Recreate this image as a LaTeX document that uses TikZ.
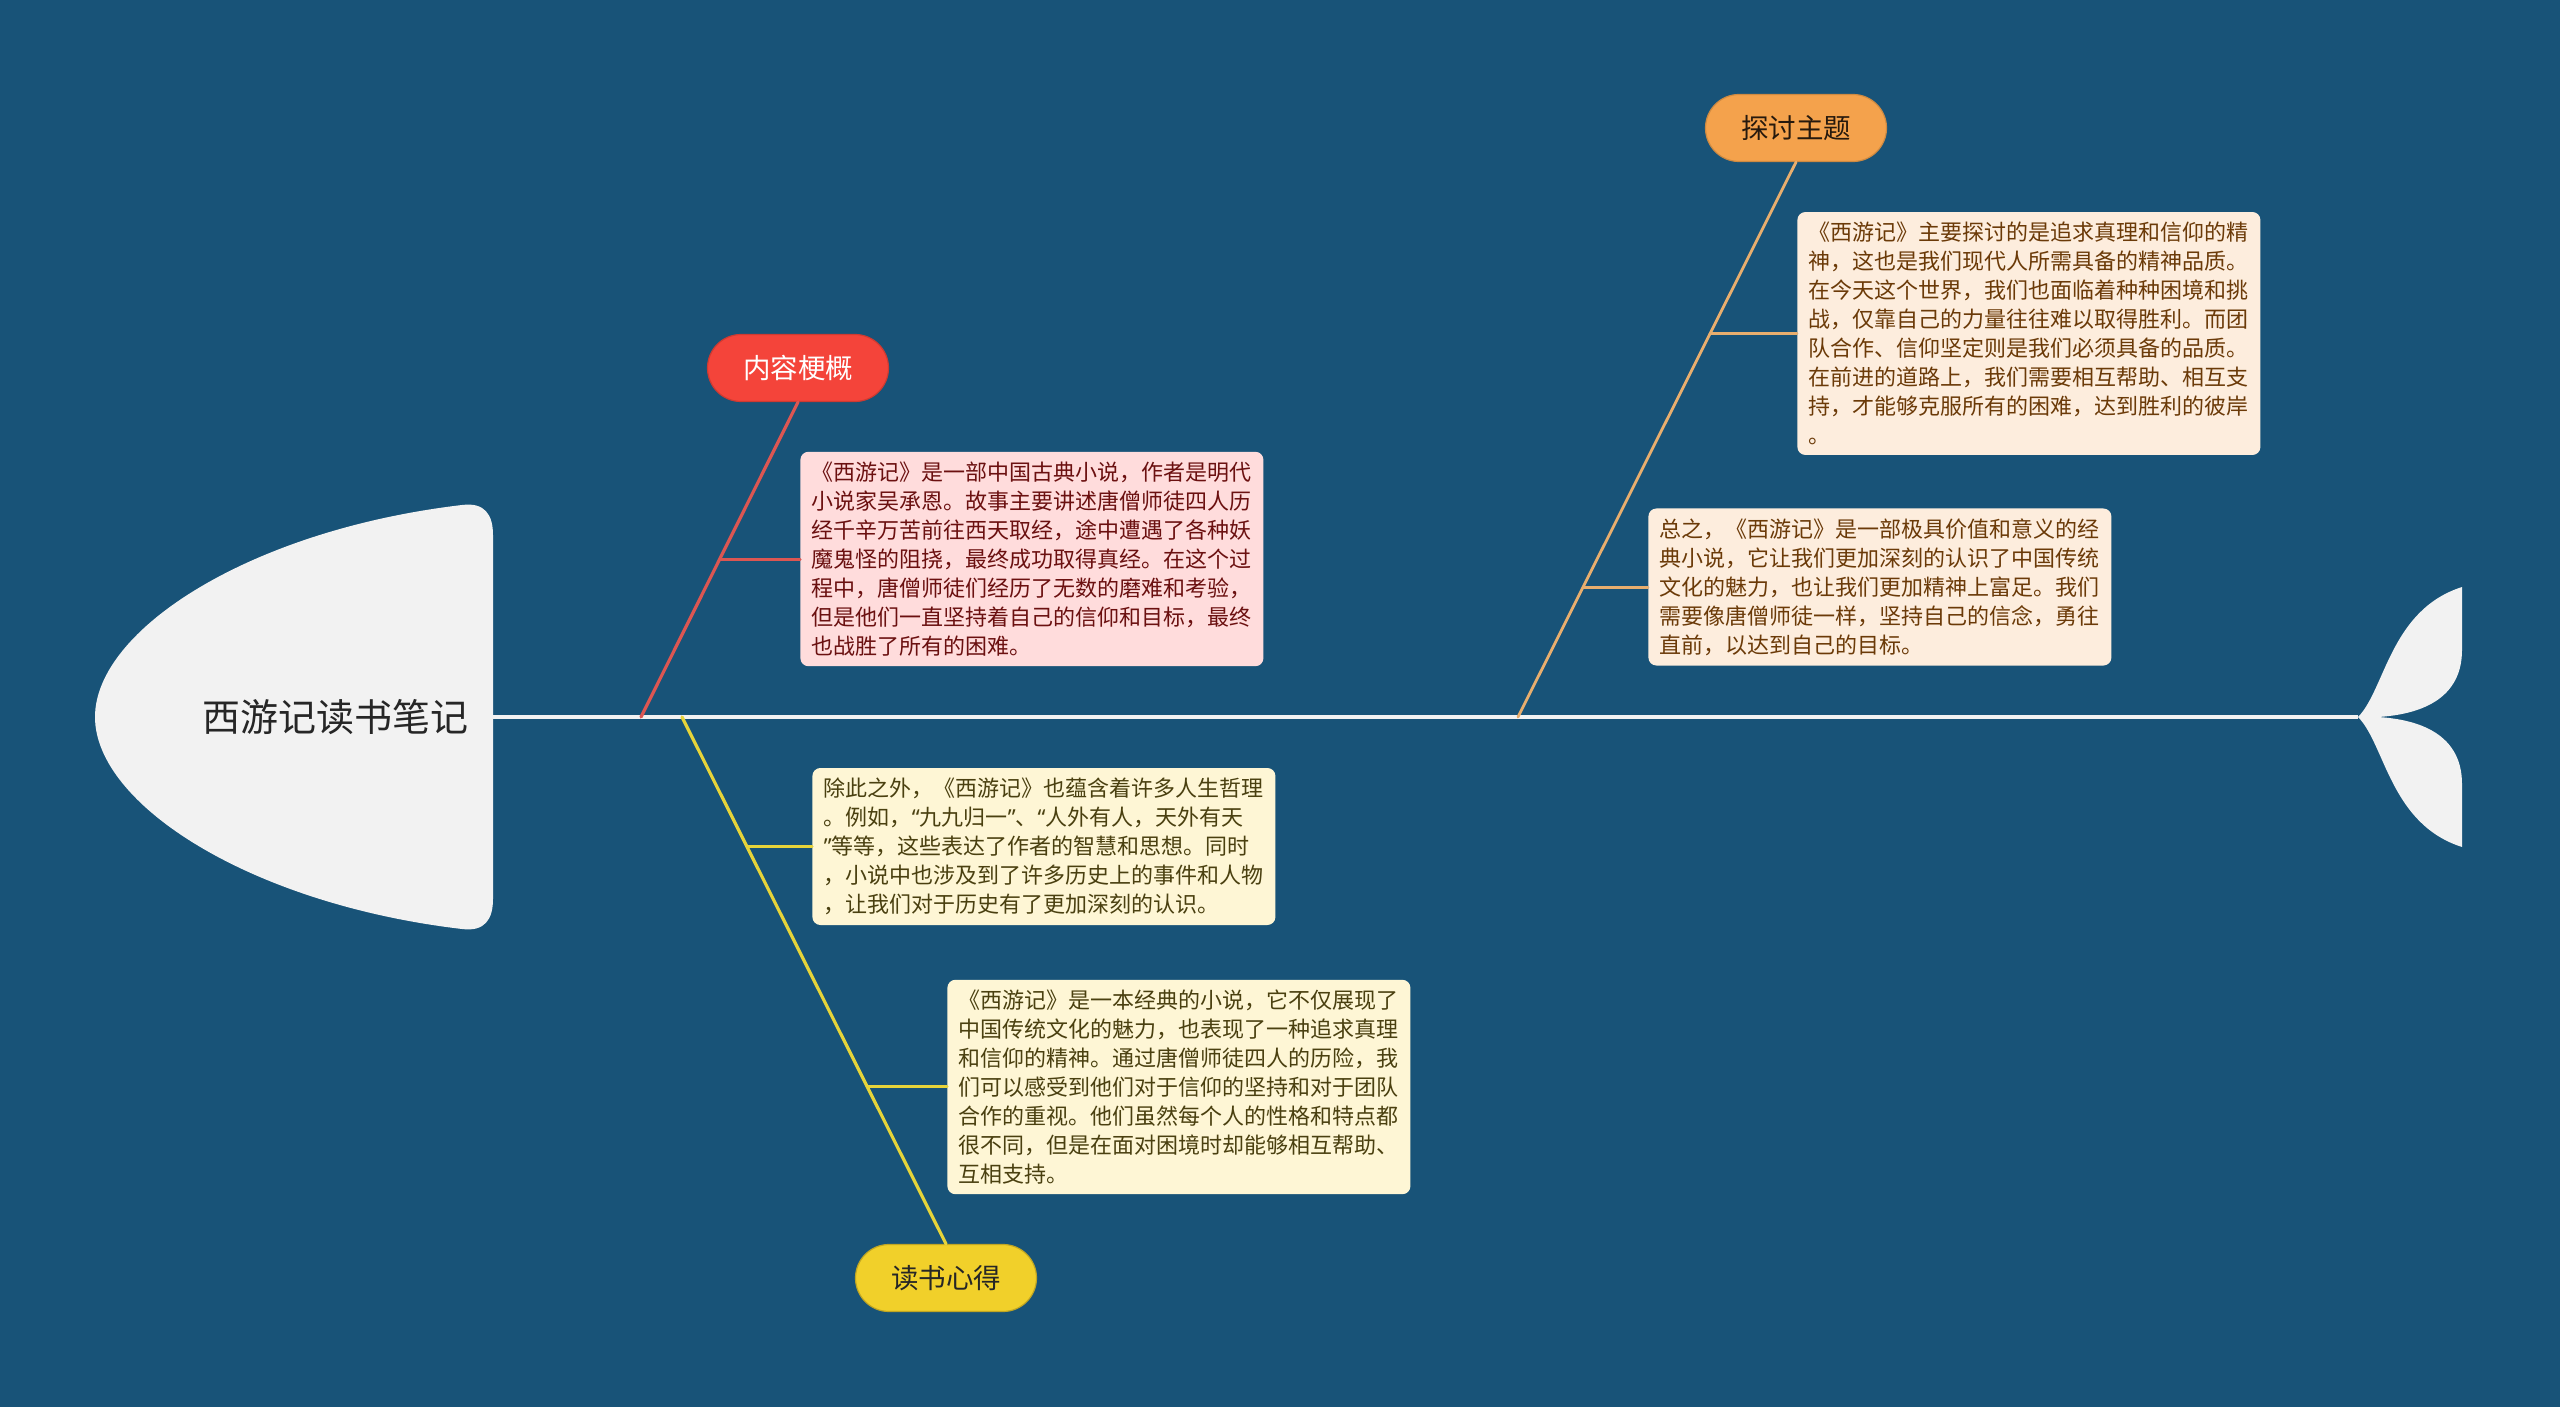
\documentclass[tikz,border=0pt]{standalone}
\usepackage{fontspec}
\newfontfamily\cjk{Noto Sans CJK SC}
\newfontfamily\latinq{Noto Sans}
\newcommand{\oq}{{\latinq “}}
\newcommand{\cq}{{\latinq ”}}
\usetikzlibrary{calc}
\definecolor{bgblue}{HTML}{185378}
\definecolor{fishwhite}{HTML}{F2F2F2}
\definecolor{gistred}{HTML}{F4443A}
\definecolor{gistline}{HTML}{DC5652}
\definecolor{gistfill}{HTML}{FFDCDC}
\definecolor{gisttext}{HTML}{6B1010}
\definecolor{themeorange}{HTML}{F4A24C}
\definecolor{themeline}{HTML}{E8AE6E}
\definecolor{themefill}{HTML}{FDEDDD}
\definecolor{themetext}{HTML}{6B3A08}
\definecolor{insightyellow}{HTML}{F1D02A}
\definecolor{insightline}{HTML}{E6D43A}
\definecolor{insightfill}{HTML}{FEF6D5}
\definecolor{insighttext}{HTML}{4A4010}

\begin{document}
\begin{tikzpicture}[x=0.5pt,y=-0.5pt,
    topic/.style={rounded corners=16.75pt, minimum width=90.5pt, minimum height=33.5pt,
        inner sep=0pt, line width=0.6pt, font=\cjk\fontsize{13.75pt}{16pt}\selectfont},
    note/.style={rounded corners=4pt, anchor=west, text width=220pt, inner xsep=5.75pt,
        inner ysep=5pt, align=left, font=\cjk\fontsize{11pt}{14.5pt}\selectfont},
    bone/.style={line width=1.6pt, line cap=round}]
    % background and frame
    \useasboundingbox (0,0) rectangle (2560,1407);
    \fill[bgblue] (0,0) rectangle (2560,1407);
    % fish head
    \fill[fishwhite] (95,717) .. controls (95,630) and (250,530) .. (462,505)
        .. controls (485,502) and (493,515) .. (493,535) -- (493,899)
        .. controls (493,919) and (485,932) .. (462,929)
        .. controls (250,904) and (95,804) .. (95,717) -- cycle;
    \node[font=\cjk\fontsize{19pt}{22pt}\selectfont, text=black!85] (title) at (335,717) {西游记读书笔记};
    % spine and tail
    \coordinate (spinestart) at (493,717);
    \coordinate (spineend) at (2358,717);
    \fill[fishwhite] (spineend) .. controls (2385,690) and (2390,610) .. (2462,587) -- (2462,650)
        .. controls (2462,705) and (2410,715) .. (2378,717)
        .. controls (2410,719) and (2462,729) .. (2462,784) -- (2462,847)
        .. controls (2390,824) and (2385,744) .. (spineend) -- cycle;
    \draw[fishwhite, line width=2pt] (spinestart) -- (spineend);
    % junctions on the spine
    \coordinate (jgist) at (641,717);
    \coordinate (jtheme) at (1518,717);
    \coordinate (jinsight) at (682,717);
    % topics
    \node[topic, fill=gistred, draw=gistred!85!black, text=white] (cgist) at (798,368) {内容梗概};
    \node[topic, fill=themeorange, draw=themeorange!85!black, text=black!80!brown] (ctheme) at (1796,128) {探讨主题};
    \node[topic, fill=insightyellow, draw=insightyellow!80!black, text=black!85] (cinsight) at (946,1278) {读书心得};
    % notes
    \node[note, fill=gistfill, text=gisttext] (ngist) at (800,559) {《西游记》是一部中国古典小说，作者是明代\\小说家吴承恩。故事主要讲述唐僧师徒四人历\\经千辛万苦前往西天取经，途中遭遇了各种妖\\魔鬼怪的阻挠，最终成功取得真经。在这个过\\程中，唐僧师徒们经历了无数的磨难和考验，\\但是他们一直坚持着自己的信仰和目标，最终\\也战胜了所有的困难。};
    \node[note, fill=themefill, text=themetext] (ntheme1) at (1797,333.5) {《西游记》主要探讨的是追求真理和信仰的精\\神，这也是我们现代人所需具备的精神品质。\\在今天这个世界，我们也面临着种种困境和挑\\战，仅靠自己的力量往往难以取得胜利。而团\\队合作、信仰坚定则是我们必须具备的品质。\\在前进的道路上，我们需要相互帮助、相互支\\持，才能够克服所有的困难，达到胜利的彼岸\\。};
    \node[note, fill=themefill, text=themetext] (ntheme2) at (1648,587) {总之，《西游记》是一部极具价值和意义的经\\典小说，它让我们更加深刻的认识了中国传统\\文化的魅力，也让我们更加精神上富足。我们\\需要像唐僧师徒一样，坚持自己的信念，勇往\\直前，以达到自己的目标。};
    \node[note, fill=insightfill, text=insighttext] (ninsight1) at (812,846.5) {除此之外，《西游记》也蕴含着许多人生哲理\\。例如，\oq 九九归一\cq 、\oq 人外有人，天外有天\\\cq 等等，这些表达了作者的智慧和思想。同时\\，小说中也涉及到了许多历史上的事件和人物\\，让我们对于历史有了更加深刻的认识。};
    \node[note, fill=insightfill, text=insighttext] (ninsight2) at (947,1087) {《西游记》是一本经典的小说，它不仅展现了\\中国传统文化的魅力，也表现了一种追求真理\\和信仰的精神。通过唐僧师徒四人的历险，我\\们可以感受到他们对于信仰的坚持和对于团队\\合作的重视。他们虽然每个人的性格和特点都\\很不同，但是在面对困境时却能够相互帮助、\\互相支持。};
    % bones
    \draw[bone, gistline] (jgist) -- (cgist.south);
    \coordinate (tgist) at ($(jgist)!0.5008!(cgist.south)$);
    \draw[bone, gistline] (tgist) -- (tgist -| ngist.west);
    \draw[bone, themeline, line width=1.4pt] (jtheme) -- (ctheme.south);
    \coordinate (ttheme1) at ($(jtheme)!0.691!(ctheme.south)$);
    \coordinate (ttheme2) at ($(jtheme)!0.234!(ctheme.south)$);
    \draw[bone, themeline, line width=1.4pt] (ttheme1) -- (ttheme1 -| ntheme1.west);
    \draw[bone, themeline, line width=1.4pt] (ttheme2) -- (ttheme2 -| ntheme2.west);
    \draw[bone, insightline] (jinsight) -- (cinsight.north);
    \coordinate (tinsight1) at ($(jinsight)!0.2455!(cinsight.north)$);
    \coordinate (tinsight2) at ($(jinsight)!0.7014!(cinsight.north)$);
    \draw[bone, insightline] (tinsight1) -- (tinsight1 -| ninsight1.west);
    \draw[bone, insightline] (tinsight2) -- (tinsight2 -| ninsight2.west);
\end{tikzpicture}
\end{document}
